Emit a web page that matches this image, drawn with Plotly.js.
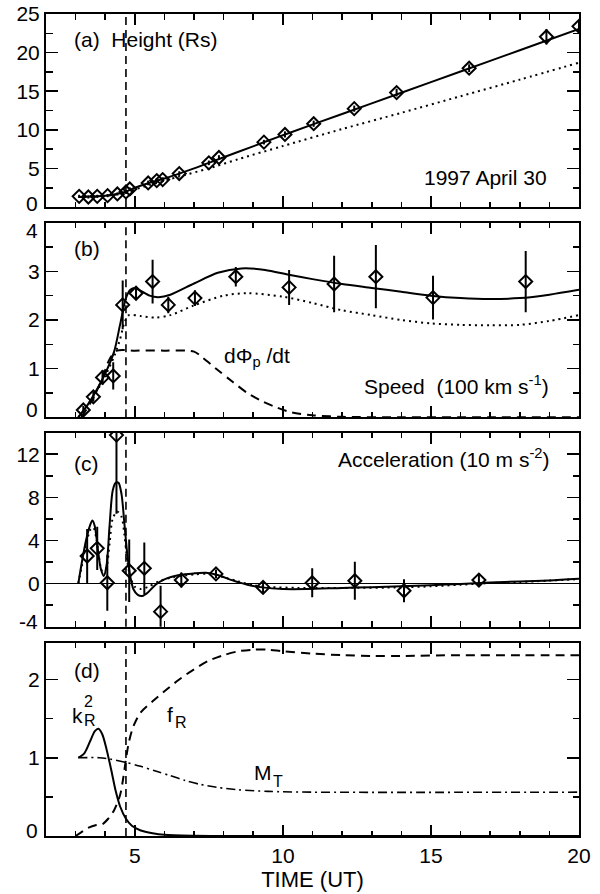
<!DOCTYPE html>
<html>
<head>
<meta charset="utf-8">
<script src="https://cdn.plot.ly/plotly-3.0.1.min.js"></script>
<style>html,body{margin:0;padding:0;background:#fff;}#chart{width:600px;height:894px;}</style>
</head>
<body>
<div id="chart"></div>
<script>
// ---------- DATA ----------
const onsetTime = 4.7;

// (a) Height (Rs)
const heightTime = [3.12, 3.43, 3.73, 4.08, 4.41, 4.70, 4.83, 5.45, 5.74, 5.94, 6.50, 7.50, 7.84, 9.36, 10.07, 11.04, 12.41, 13.84, 16.29, 18.90, 20.0];
const heightVal  = [1.38, 1.30, 1.38, 1.47, 1.69, 1.95, 2.34, 3.12, 3.42, 3.55, 4.33, 5.72, 6.41, 8.40, 9.40, 10.79, 12.74, 14.82, 17.98, 22.05, 23.4];
const heightErr  = [0.2, 0.2, 0.2, 0.2, 0.2, 0.2, 0.2, 0.3, 0.3, 0.3, 0.3, 0.3, 0.3, 0.3, 0.4, 0.4, 0.4, 0.5, 0.5, 1.0, 0.8];
const heightFitTime = [3.1, 3.5, 4.0, 4.4, 4.7, 5.0, 5.5, 6.0, 6.5, 7.0, 7.5, 8.5, 9.4, 10.0, 12.0, 14.0, 16.0, 18.0, 20.0];
const heightFitVal  = [1.3, 1.35, 1.45, 1.68, 2.0, 2.5, 3.15, 3.7, 4.33, 5.0, 5.72, 7.15, 8.45, 9.3, 12.05, 14.8, 17.55, 20.3, 23.06];
const heightModTime = [3.1, 3.5, 4.0, 4.4, 4.8, 5.5, 6.5, 7.5, 8.5, 10.0, 12.0, 14.0, 16.0, 18.0, 20.0];
const heightModVal  = [1.3, 1.35, 1.45, 1.66, 2.05, 2.85, 3.95, 5.0, 6.2, 7.9, 10.1, 12.2, 14.35, 16.5, 18.7];

// (b) Speed (100 km/s)
const speedTime = [3.26, 3.60, 3.91, 4.27, 4.59, 5.04, 5.60, 6.13, 7.03, 8.41, 10.21, 11.73, 13.14, 15.07, 18.20];
const speedVal  = [0.15, 0.42, 0.82, 0.85, 2.31, 2.55, 2.79, 2.31, 2.45, 2.89, 2.67, 2.74, 2.89, 2.46, 2.79];
const speedErr  = [0.08, 0.1, 0.15, 0.28, 0.5, 0.12, 0.45, 0.17, 0.16, 0.2, 0.36, 0.58, 0.65, 0.45, 0.63];
const speedFitTime = [3.09, 3.4, 3.7, 4.0, 4.3, 4.5, 4.7, 4.85, 5.0, 5.2, 5.5, 5.8, 6.2, 7.0, 7.8, 8.6, 9.4, 10.2, 11.0, 12.0, 13.0, 14.0, 15.0, 16.0, 17.0, 18.0, 19.0, 20.0];
const speedFitVal  = [0.0, 0.25, 0.55, 0.9, 1.35, 1.9, 2.45, 2.62, 2.66, 2.6, 2.5, 2.47, 2.52, 2.75, 2.97, 3.06, 3.03, 2.93, 2.84, 2.74, 2.66, 2.58, 2.5, 2.45, 2.43, 2.45, 2.52, 2.62];
const speedModTime = [3.09, 3.4, 3.7, 4.0, 4.3, 4.5, 4.65, 4.8, 5.2, 5.7, 6.2, 7.0, 8.0, 8.8, 10.0, 11.0, 12.0, 13.0, 14.0, 15.0, 16.0, 17.0, 18.0, 19.0, 20.0];
const speedModVal  = [0.0, 0.25, 0.52, 0.85, 1.25, 1.6, 1.95, 2.1, 2.08, 2.05, 2.1, 2.3, 2.5, 2.55, 2.48, 2.35, 2.2, 2.1, 2.0, 1.93, 1.9, 1.89, 1.9, 1.98, 2.1];
const fluxRateTime = [3.2, 3.6, 3.9, 4.15, 4.4, 5.0, 6.0, 7.0, 7.3, 7.8, 8.3, 8.8, 9.3, 9.8, 10.3, 11.0, 12.0, 14.0, 17.0, 20.0];
const fluxRateVal  = [0.0, 0.4, 0.8, 1.2, 1.37, 1.37, 1.37, 1.35, 1.22, 0.97, 0.73, 0.5, 0.33, 0.2, 0.1, 0.04, 0.01, 0.0, 0.0, 0.0];

// (c) Acceleration (10 m/s^2)
const accTime = [3.39, 3.73, 4.07, 4.38, 4.81, 5.32, 5.87, 6.57, 7.74, 9.33, 10.99, 12.43, 14.09, 16.62];
const accVal  = [2.56, 3.27, 0.08, 13.78, 1.2, 1.42, -2.6, 0.33, 0.9, -0.35, 0.08, 0.27, -0.66, 0.33];
const accErr  = [2.5, 2.0, 2.6, 7.3, 2.9, 2.4, 2.4, 0.7, 0.4, 0.5, 1.35, 1.76, 1.06, 0.6];
const accFitTime = [3.09, 3.2, 3.35, 3.5, 3.57, 3.65, 3.75, 3.85, 3.95, 4.05, 4.15, 4.25, 4.35, 4.45, 4.55, 4.65, 4.75, 4.85, 4.95, 5.1, 5.25, 5.45, 5.7, 6.0, 6.5, 7.0, 7.4, 7.8, 8.3, 8.8, 9.3, 10.0, 10.8, 12.0, 13.0, 14.0, 15.0, 16.0, 17.0, 18.0, 19.0, 20.0];
const accFitVal  = [0.0, 1.8, 4.0, 5.5, 5.85, 5.3, 3.2, 1.4, 0.7, 1.8, 5.5, 8.6, 9.35, 9.35, 8.3, 5.5, 2.6, 0.6, -0.5, -1.05, -1.15, -0.8, -0.1, 0.4, 0.8, 0.95, 1.0, 0.8, 0.3, -0.1, -0.35, -0.5, -0.5, -0.4, -0.33, -0.25, -0.15, -0.03, 0.1, 0.2, 0.3, 0.45];
const accModTime = [3.09, 3.2, 3.35, 3.5, 3.6, 3.7, 3.85, 3.95, 4.05, 4.15, 4.25, 4.4, 4.55, 4.65, 4.75, 4.85, 5.0, 5.2, 5.45, 5.8, 6.3, 7.0, 7.5, 8.0, 8.5, 9.0, 9.5, 10.5, 12.0, 14.0, 15.0, 16.0, 17.0, 18.0, 19.0, 20.0];
const accModVal  = [0.0, 1.5, 3.6, 5.0, 5.2, 4.2, 1.5, 0.8, 1.5, 3.8, 6.0, 6.7, 6.2, 4.5, 2.0, 0.6, -0.3, -0.5, -0.3, 0.2, 0.6, 0.85, 0.9, 0.6, 0.2, -0.15, -0.3, -0.4, -0.4, -0.35, -0.25, -0.1, 0.05, 0.15, 0.28, 0.42];

// (d) kR^2, fR, MT
const kR2Time = [3.09, 3.3, 3.5, 3.65, 3.77, 3.9, 4.05, 4.2, 4.35, 4.5, 4.7, 4.9, 5.2, 5.6, 6.0, 7.0, 8.0, 20.0];
const kR2Val  = [1.0, 1.06, 1.22, 1.34, 1.37, 1.3, 1.1, 0.85, 0.58, 0.38, 0.22, 0.13, 0.07, 0.035, 0.015, 0.003, 0.0, 0.0];
const fRTime = [3.0, 3.2, 3.4, 3.7, 3.9, 4.1, 4.3, 4.5, 4.6, 4.7, 4.8, 4.95, 5.2, 5.6, 6.0, 6.5, 7.0, 7.5, 8.0, 8.5, 9.0, 9.5, 10.0, 11.0, 12.0, 13.0, 14.0, 16.0, 18.0, 20.0];
const fRVal  = [0.0, 0.05, 0.1, 0.14, 0.15, 0.22, 0.33, 0.52, 0.72, 0.98, 1.2, 1.4, 1.58, 1.72, 1.85, 2.0, 2.13, 2.24, 2.31, 2.36, 2.38, 2.38, 2.36, 2.33, 2.31, 2.3, 2.3, 2.31, 2.31, 2.31];
const MTTime = [3.09, 3.8, 4.2, 4.7, 5.2, 5.7, 6.2, 6.7, 7.2, 7.8, 8.5, 9.5, 11.0, 20.0];
const MTVal  = [1.0, 1.0, 0.98, 0.94, 0.89, 0.83, 0.77, 0.71, 0.66, 0.62, 0.59, 0.57, 0.56, 0.56];

// tick values / labels per panel (edge labels drawn separately, nudged inward as in the original)
const ticksA = [0, 5, 10, 15, 20, 25],  labelsA = ['', '5', '10', '15', '20', '25'];
const ticksB = [0, 1, 2, 3, 4],         labelsB = ['', '1', '2', '3', ''];
const ticksC = [-4, 0, 4, 8, 12],       labelsC = ['', '0', '4', '8', '12'];
const ticksD = [0, 1, 2],               labelsD = ['', '1', '2'];
const edgeLabels = ['0', '4', '0', '-4', '0'];

// ---------- STYLE ----------
const FONT = 'Liberation Sans, Arial, Helvetica, sans-serif';
const BLK = '#000';
const lw = 2;

function line(x, y, xa, ya, dash, w) {
  return {x: x, y: y, xaxis: xa, yaxis: ya, type: 'scatter', mode: 'lines',
    line: {color: BLK, width: w || lw, dash: dash || 'solid', shape: 'spline', smoothing: 0.8},
    hoverinfo: 'skip', showlegend: false};
}
function pts(x, y, e, xa, ya) {
  return {x: x, y: y, xaxis: xa, yaxis: ya, type: 'scatter', mode: 'markers',
    marker: {symbol: 'diamond-open', size: 10, color: BLK, line: {color: BLK, width: 2}},
    error_y: {type: 'data', array: e, visible: true, color: BLK, thickness: 2, width: 0},
    showlegend: false};
}

const traces = [
  line(heightFitTime, heightFitVal, 'x', 'y'),
  line(heightModTime, heightModVal, 'x', 'y', '2px,4px'),
  pts(heightTime, heightVal, heightErr, 'x', 'y'),

  line(speedFitTime, speedFitVal, 'x2', 'y2'),
  line(speedModTime, speedModVal, 'x2', 'y2', '2px,4px'),
  line(fluxRateTime, fluxRateVal, 'x2', 'y2', '9px,6px'),
  pts(speedTime, speedVal, speedErr, 'x2', 'y2'),

  line(accFitTime, accFitVal, 'x3', 'y3'),
  line(accModTime, accModVal, 'x3', 'y3', '2px,4px'),
  pts(accTime, accVal, accErr, 'x3', 'y3'),

  line(kR2Time, kR2Val, 'x4', 'y4'),
  line(fRTime, fRVal, 'x4', 'y4', '9px,6px'),
  line(MTTime, MTVal, 'x4', 'y4', '9px,4px,2px,4px', 1.6)
];

function xax(anchor, showLabels) {
  return {
    domain: [0, 1], anchor: anchor, range: [2, 20], tick0: 0, dtick: 5,
    showline: true, linewidth: 2, linecolor: BLK, mirror: 'allticks',
    ticks: 'inside', ticklen: 11, tickwidth: 1.6, tickcolor: BLK,
    minor: {ticks: 'inside', ticklen: 5.5, dtick: 1, tick0: 0, tickwidth: 1.6, tickcolor: BLK, showgrid: false},
    showgrid: false, zeroline: false, showticklabels: showLabels,
    tickfont: {family: FONT, size: 21, color: BLK}, fixedrange: true
  };
}
function yax(anchor, domain, range, tv, tt, mdtick, zl) {
  return {
    domain: domain, anchor: anchor, range: range, tickmode: 'array', tickvals: tv, ticktext: tt,
    showline: true, linewidth: 2, linecolor: BLK, mirror: 'allticks',
    ticks: 'inside', ticklen: 12, tickwidth: 1.6, tickcolor: BLK,
    minor: {tickmode: 'linear', ticks: 'inside', ticklen: 6.5, dtick: mdtick, tick0: 0, tickwidth: 1.6, tickcolor: BLK, showgrid: false},
    showgrid: false, zeroline: !!zl, zerolinecolor: BLK, zerolinewidth: 1.6,
    tickfont: {family: FONT, size: 21, color: BLK}, fixedrange: true
  };
}

const dA = [0.7652, 1.0], dB = [0.5094, 0.7461], dC = [0.2546, 0.4906], dD = [0.0, 0.2352];

const xa4 = xax('y4', true);
xa4.title = {text: 'TIME (UT)', font: {family: FONT, size: 22, color: BLK}, standoff: 2};

function vline(xa, ya) {
  return {type: 'line', xref: xa, yref: ya + ' domain', x0: onsetTime, x1: onsetTime, y0: 0, y1: 1,
    line: {color: BLK, width: 1.6, dash: '8px,5px'}};
}

function ann(text, x, y, xanchor, size) {
  return {text: text, x: x, y: y, xref: 'paper', yref: 'paper', xanchor: xanchor, yanchor: 'middle',
    showarrow: false, font: {family: FONT, size: size || 21, color: BLK}};
}
const W = 533, L = 46, B = 836, H = 822;
const px = v => (v - L) / W, py = v => (B - v) / H;

const layout = {
  width: 600, height: 894,
  margin: {l: 46, r: 21, t: 14, b: 58, pad: 0},
  paper_bgcolor: '#fff', plot_bgcolor: '#fff',
  font: {family: FONT, size: 21, color: BLK},
  showlegend: false,
  xaxis: xax('y', false), yaxis: yax('x', dA, [0, 25], ticksA, labelsA, 2.5),
  xaxis2: xax('y2', false), yaxis2: yax('x2', dB, [0, 4], ticksB, labelsB, 0.5),
  xaxis3: xax('y3', false), yaxis3: yax('x3', dC, [-4, 14], ticksC, labelsC, 2, true),
  xaxis4: xa4, yaxis4: yax('x4', dD, [0, 2.47], ticksD, labelsD, 0.5),
  shapes: [vline('x', 'y'), vline('x2', 'y2'), vline('x3', 'y3'), vline('x4', 'y4')],
  annotations: [
    ann(edgeLabels[0], px(40), py(203), 'right'),
    ann(edgeLabels[1], px(40), py(230), 'right'),
    ann(edgeLabels[2], px(40), py(409), 'right'),
    ann(edgeLabels[3], px(40), py(621), 'right'),
    ann(edgeLabels[4], px(40), py(830), 'right'),
    ann('(a)  Height (Rs)', px(72), py(40), 'left'),
    ann('1997 April 30', px(549), py(178), 'right'),
    ann('(b)', px(72), py(248), 'left'),
    ann('dΦ<sub>p</sub> /dt', px(222), py(357), 'left'),
    ann('Speed  (100 km s<sup>-1</sup>)', px(551), py(385), 'right'),
    ann('(c)', px(72), py(463), 'left'),
    ann('Acceleration (10 m s<sup>-2</sup>)', px(551), py(458), 'right'),
    ann('(d)', px(72), py(670), 'left'),
    ann('k', px(70), py(715), 'left'),
    ann('2', px(82), py(701), 'left', 16),
    ann('R', px(82), py(720), 'left', 16),
    ann('f', px(165), py(714), 'left'),
    ann('R', px(173), py(722), 'left', 16),
    ann('M', px(252), py(772), 'left'),
    ann('T', px(271), py(781), 'left', 16)
  ]
};

Plotly.newPlot('chart', traces, layout, {displayModeBar: false, staticPlot: true});
</script>
</body>
</html>
